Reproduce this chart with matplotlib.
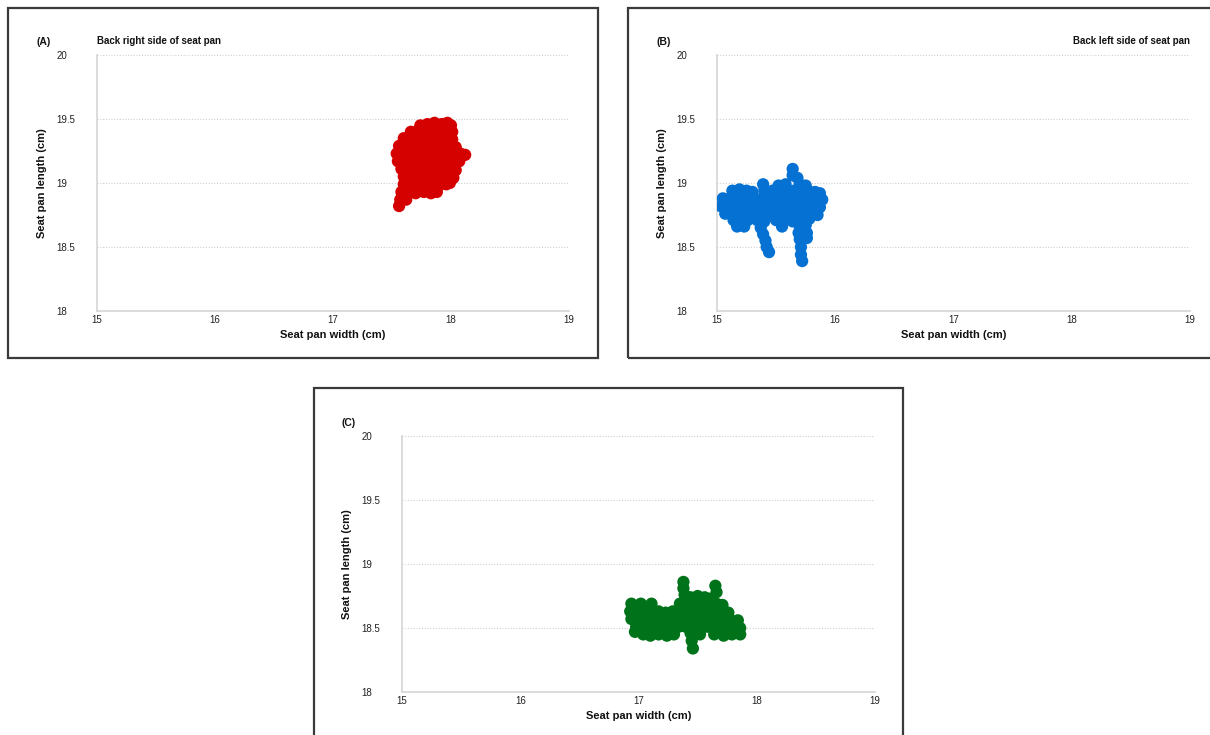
import matplotlib
matplotlib.use("Agg")
import matplotlib.pyplot as plt
from matplotlib.patches import Rectangle

plt.rcParams["font.family"] = ["Liberation Sans", "DejaVu Sans"]

# ---- data: centre-of-pressure positions (cm) ----
width_a = [
    17.74, 17.80, 17.86, 17.92, 17.97, 18.00,
    17.66, 17.72, 17.78, 17.84, 17.90, 17.96, 18.01,
    17.60, 17.66, 17.72, 17.78, 17.84, 17.90, 17.96, 18.01,
    17.56, 17.62, 17.68, 17.74, 17.80, 17.86, 17.92, 17.98, 18.04,
    17.54, 17.60, 17.66, 17.72, 17.78, 17.84, 17.90, 17.96, 18.02, 18.08, 18.12,
    17.55, 17.61, 17.67, 17.73, 17.79, 17.85, 17.91, 17.97, 18.03, 18.07,
    17.58, 17.64, 17.70, 17.76, 17.82, 17.88, 17.94, 18.00, 18.04,
    17.60, 17.66, 17.72, 17.78, 17.84, 17.90, 17.96, 18.02,
    17.60, 17.66, 17.72, 17.78, 17.84, 17.90, 17.96, 17.99,
    17.58, 17.64, 17.70, 17.77, 17.83, 17.88,
    17.57, 17.62,
    17.56,
]
length_a = [
    19.45, 19.46, 19.47, 19.46, 19.47, 19.45,
    19.40, 19.41, 19.40, 19.41, 19.40, 19.41, 19.40,
    19.35, 19.34, 19.35, 19.35, 19.34, 19.35, 19.35, 19.34,
    19.29, 19.29, 19.28, 19.29, 19.29, 19.28, 19.29, 19.29, 19.28,
    19.23, 19.23, 19.22, 19.23, 19.23, 19.22, 19.23, 19.23, 19.22, 19.23, 19.22,
    19.17, 19.17, 19.16, 19.17, 19.17, 19.16, 19.17, 19.17, 19.16, 19.17,
    19.11, 19.11, 19.10, 19.11, 19.11, 19.10, 19.11, 19.11, 19.10,
    19.05, 19.05, 19.04, 19.05, 19.05, 19.04, 19.05, 19.04,
    18.99, 18.99, 18.98, 18.99, 18.99, 18.98, 18.99, 19.00,
    18.93, 18.93, 18.92, 18.93, 18.92, 18.93,
    18.87, 18.87,
    18.82,
]

width_b = [
    15.64, 15.64, 15.68,
    15.39, 15.52, 15.58, 15.70, 15.75,
    15.13, 15.19, 15.25, 15.30, 15.40, 15.47, 15.53, 15.59, 15.65, 15.71, 15.77, 15.83, 15.87,
    15.05, 15.11, 15.17, 15.23, 15.29, 15.35, 15.41, 15.47, 15.53, 15.59, 15.65, 15.71, 15.77, 15.83, 15.89,
    15.03, 15.09, 15.15, 15.21, 15.27, 15.33, 15.39, 15.45, 15.51, 15.57, 15.63, 15.69, 15.75, 15.81, 15.87,
    15.07, 15.13, 15.19, 15.25, 15.31, 15.37, 15.43, 15.49, 15.55, 15.61, 15.67, 15.73, 15.79, 15.85,
    15.14, 15.20, 15.26, 15.34, 15.40, 15.50, 15.56, 15.64, 15.70, 15.78,
    15.17, 15.23, 15.37, 15.55, 15.70,
    15.39, 15.41, 15.42, 15.44,
    15.69, 15.70, 15.71, 15.71, 15.72,
    15.75, 15.76, 15.76,
]
length_b = [
    19.11, 19.06, 19.04,
    18.99, 18.98, 18.99, 18.99, 18.98,
    18.94, 18.95, 18.94, 18.93, 18.94, 18.94, 18.95, 18.94, 18.94, 18.95, 18.94, 18.93, 18.92,
    18.88, 18.88, 18.87, 18.88, 18.88, 18.87, 18.88, 18.88, 18.87, 18.88, 18.88, 18.87, 18.88, 18.88, 18.87,
    18.82, 18.82, 18.81, 18.82, 18.82, 18.81, 18.82, 18.82, 18.81, 18.82, 18.82, 18.81, 18.82, 18.82, 18.81,
    18.76, 18.76, 18.75, 18.76, 18.76, 18.75, 18.76, 18.76, 18.75, 18.76, 18.76, 18.75, 18.76, 18.75,
    18.71, 18.70, 18.71, 18.71, 18.70, 18.71, 18.71, 18.70, 18.71, 18.72,
    18.66, 18.66, 18.65, 18.66, 18.66,
    18.60, 18.55, 18.50, 18.46,
    18.61, 18.56, 18.50, 18.44, 18.39,
    18.67, 18.61, 18.57,
]

width_c = [
    17.38, 17.38, 17.39,
    17.65, 17.66,
    17.44, 17.50, 17.56, 17.61,
    16.94, 17.02, 17.06, 17.11, 17.35, 17.42, 17.48, 17.54, 17.60, 17.66, 17.71,
    16.93, 16.99, 17.05, 17.11, 17.17, 17.23, 17.29, 17.35, 17.41, 17.47, 17.53, 17.59, 17.65, 17.71, 17.76,
    16.94, 17.00, 17.06, 17.12, 17.18, 17.24, 17.30, 17.36, 17.42, 17.48, 17.54, 17.60, 17.66, 17.72, 17.78, 17.84,
    16.98, 17.04, 17.10, 17.16, 17.22, 17.28, 17.34, 17.40, 17.46, 17.52, 17.58, 17.64, 17.70, 17.76, 17.82, 17.86,
    16.97, 17.04, 17.10, 17.17, 17.24, 17.30, 17.44, 17.52, 17.64, 17.72, 17.79, 17.86,
    17.45, 17.46,
]
length_c = [
    18.86, 18.81, 18.76,
    18.83, 18.78,
    18.74, 18.75, 18.74, 18.73,
    18.69, 18.69, 18.66, 18.69, 18.69, 18.70, 18.69, 18.69, 18.70, 18.69, 18.68,
    18.63, 18.63, 18.62, 18.63, 18.63, 18.62, 18.63, 18.63, 18.62, 18.63, 18.63, 18.62, 18.63, 18.63, 18.62,
    18.57, 18.57, 18.56, 18.57, 18.57, 18.56, 18.57, 18.57, 18.56, 18.57, 18.57, 18.56, 18.57, 18.57, 18.56, 18.56,
    18.51, 18.51, 18.50, 18.51, 18.51, 18.50, 18.51, 18.51, 18.50, 18.51, 18.51, 18.50, 18.51, 18.51, 18.50, 18.50,
    18.47, 18.45, 18.44, 18.45, 18.44, 18.45, 18.46, 18.45, 18.45, 18.44, 18.45, 18.45,
    18.40, 18.34,
]

x_ticks = [15, 16, 17, 18, 19]
y_ticks = [18, 18.5, 19, 19.5, 20]
y_tick_labels = ["18", "18.5", "19", "19.5", "20"]

# ---- layout helpers (pixel geometry of a 1210 x 735 canvas) ----
W, H = 1210, 735
fig = plt.figure(figsize=(W / 100, H / 100), dpi=100)
fig.patch.set_facecolor("white")


def frac_rect(left, top, right, bottom):
    return [left / W, 1 - bottom / H, (right - left) / W, (bottom - top) / H]


def frame(left, top, right, bottom):
    fig.add_artist(Rectangle((left / W, 1 - bottom / H), (right - left) / W,
                             (bottom - top) / H, transform=fig.transFigure,
                             fill=False, edgecolor="#3a3a3a", linewidth=1.6))


def panel(rect, xs, ys, color, tag, title=None, title_right=False):
    ax = fig.add_axes(rect)
    ax.set_xlim(15, 19)
    ax.set_ylim(18, 20)
    ax.set_xticks(x_ticks)
    ax.set_xticklabels([str(t) for t in x_ticks])
    ax.set_yticks(y_ticks)
    ax.set_yticklabels(y_tick_labels)
    for s in ("top", "right"):
        ax.spines[s].set_visible(False)
    for s in ("left", "bottom"):
        ax.spines[s].set_color("#d9d9d9")
        ax.spines[s].set_linewidth(1.3)
    ax.tick_params(axis="both", length=0, labelsize=7, colors="#222222")
    ax.tick_params(axis="x", pad=3)
    ax.tick_params(axis="y", pad=29)
    for lab in ax.get_yticklabels():
        lab.set_horizontalalignment("left")
    for yv in y_ticks[1:]:
        ax.axhline(yv, color="#cfcfcf", linewidth=0.8, linestyle=(0, (1, 1.5)), zorder=1)
    ax.scatter(xs, ys, s=78, color=color, edgecolors="none", zorder=3)
    ax.text(0.5, -24 / 256, "Seat pan width (cm)", transform=ax.transAxes,
            ha="center", va="center", fontsize=8, fontweight="bold", color="#111111")
    ax.text(-54.5 / 472, 0.5, "Seat pan length (cm)", transform=ax.transAxes,
            ha="center", va="center", rotation=90, fontsize=8, fontweight="bold",
            color="#111111")
    ax.text(-53.5 / 472, 1 + 13 / 256, tag, transform=ax.transAxes,
            ha="center", va="center", fontsize=7.5, fontweight="bold", color="#111111")
    if title:
        if title_right:
            ax.text(1.0, 1 + 14 / 256, title, transform=ax.transAxes,
                    ha="right", va="center", fontsize=7, fontweight="bold", color="#111111")
        else:
            ax.text(0.0, 1 + 14 / 256, title, transform=ax.transAxes,
                    ha="left", va="center", fontsize=7, fontweight="bold", color="#111111")
    return ax


frame(8, 8, 598, 358)
frame(628, 8, 1218, 358)
frame(314, 388, 903, 742)

panel(frac_rect(97, 55, 569, 311), width_a, length_a, "#D50000", "(A)",
      "Back right side of seat pan")
panel(frac_rect(717, 55, 1190, 311), width_b, length_b, "#0571D3", "(B)",
      "Back left side of seat pan", title_right=True)
panel(frac_rect(402, 436, 875, 692), width_c, length_c, "#00731A", "(C)")

fig.savefig("out.png", dpi=100, facecolor="white")
